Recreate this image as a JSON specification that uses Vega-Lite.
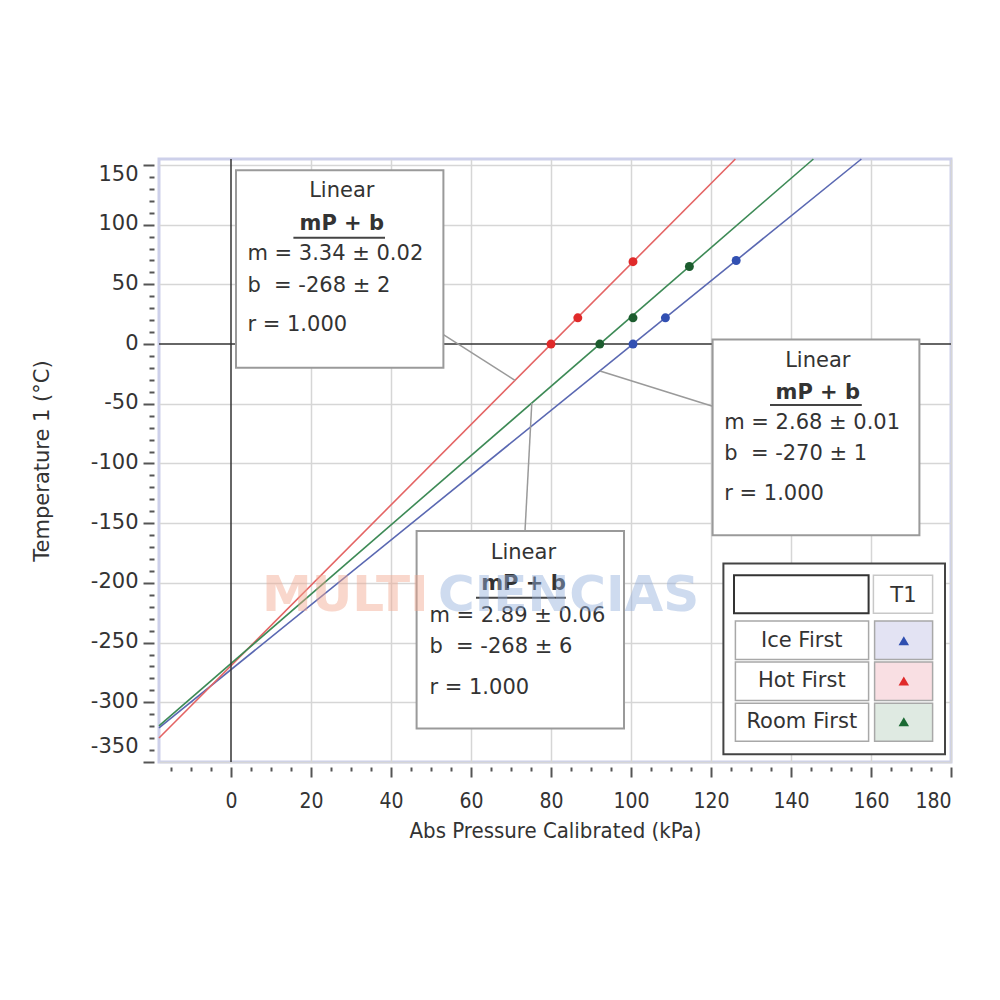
{
  "$schema": "https://vega.github.io/schema/vega-lite/v6.json",
  "width": 792,
  "height": 603,
  "padding": {"left": 31, "top": 155, "right": 5, "bottom": 5},
  "background": "white",
  "config": {"view": {"stroke": "#cdd0ea", "strokeWidth": 3}, "font": "DejaVu Sans"},
  "datasets": {
    "points": [
      {"series": "Ice First", "P": 100.5, "T": 0},
      {"series": "Ice First", "P": 108.6, "T": 22},
      {"series": "Ice First", "P": 126.3, "T": 70},
      {"series": "Hot First", "P": 80.0, "T": 0},
      {"series": "Hot First", "P": 86.7, "T": 22},
      {"series": "Hot First", "P": 100.5, "T": 69},
      {"series": "Room First", "P": 92.2, "T": 0},
      {"series": "Room First", "P": 100.5, "T": 22},
      {"series": "Room First", "P": 114.6, "T": 65}
    ],
    "fits": [
      {"series": "Ice First", "P": -18, "T": -321.5},
      {"series": "Ice First", "P": 157.6, "T": 155},
      {"series": "Hot First", "P": -18, "T": -329.9},
      {"series": "Hot First", "P": 126.1, "T": 155},
      {"series": "Room First", "P": -18, "T": -319.8},
      {"series": "Room First", "P": 145.6, "T": 155}
    ]
  },
  "resolve": {"scale": {"color": "independent"}},
  "layer": [
    {
      "data": {"name": "fits"},
      "mark": {"type": "line", "strokeWidth": 1.6},
      "encoding": {
        "x": {
          "field": "P", "type": "quantitative",
          "scale": {"domain": [-18, 180], "nice": false, "zero": false},
          "axis": {
            "title": "Abs Pressure Calibrated (kPa)",
            "values": [-15,-10,-5,0,5,10,15,20,25,30,35,40,45,50,55,60,65,70,75,80,85,90,95,100,105,110,115,120,125,130,135,140,145,150,155,160,165,170,175,180],
            "tickCount": 200,
            "labelExpr": "datum.value % 20 === 0 ? '' + datum.value : ''",
            "labelOverlap": false,
            "labelBound": false,
            "labelFlush": true,
            "domain": false,
            "offset": 5,
            "tickSize": {"condition": {"test": "datum.value % 20 === 0", "value": 10}, "value": 4},
            "tickWidth": 2,
            "tickColor": "#555",
            "grid": true,
            "gridColor": "#d6d6d6",
            "gridWidth": 1.5,
            "gridOpacity": {"condition": {"test": "datum.value % 20 === 0 && datum.value !== 0", "value": 1}, "value": 0},
            "labelFont": "DejaVu Sans Condensed, Liberation Sans Narrow, DejaVu Sans",
            "labelFontSize": 21,
            "labelColor": "#333",
            "labelPadding": 13,
            "titleFont": "DejaVu Sans Condensed, Liberation Sans Narrow, DejaVu Sans",
            "titleFontSize": 22,
            "titleFontWeight": "normal",
            "titleColor": "#333",
            "titlePadding": 9
          }
        },
        "y": {
          "field": "T", "type": "quantitative",
          "scale": {"domain": [-350, 155], "nice": false, "zero": false},
          "axis": {
            "title": "Temperature 1 (°C)",
            "values": [-350,-340,-330,-320,-310,-300,-290,-280,-270,-260,-250,-240,-230,-220,-210,-200,-190,-180,-170,-160,-150,-140,-130,-120,-110,-100,-90,-80,-70,-60,-50,-40,-30,-20,-10,0,10,20,30,40,50,60,70,80,90,100,110,120,130,140,150],
            "tickCount": 200,
            "labelExpr": "datum.value % 50 === 0 ? '' + datum.value : ''",
            "labelOverlap": false,
            "labelBound": false,
            "labelFlush": 7,
            "labelOffset": {"condition": {"test": "datum.value === -350", "value": -6}, "value": -1},
            "domain": false,
            "offset": 5,
            "tickSize": {"condition": {"test": "datum.value % 50 === 0", "value": 11}, "value": 5},
            "tickWidth": 2,
            "tickColor": "#555",
            "grid": true,
            "gridColor": "#d6d6d6",
            "gridWidth": 1.5,
            "gridOpacity": {"condition": {"test": "datum.value % 50 === 0 && datum.value !== 0", "value": 1}, "value": 0},
            "labelFont": "DejaVu Sans",
            "labelFontSize": 21,
            "labelColor": "#333",
            "labelPadding": 5,
            "titleFont": "DejaVu Sans",
            "titleFontSize": 21,
            "titleFontWeight": "normal",
            "titleColor": "#333",
            "titlePadding": 38
          }
        },
        "color": {
          "field": "series", "type": "nominal", "legend": null,
          "scale": {"domain": ["Ice First", "Hot First", "Room First"], "range": ["#5a68b2", "#e46464", "#3d8a56"]}
        }
      }
    },
    {"data": {"values": [{}]}, "mark": {"type": "rule", "color": "#333", "strokeWidth": 1.5}, "encoding": {"x": {"datum": 0}}},
    {"data": {"values": [{}]}, "mark": {"type": "rule", "color": "#333", "strokeWidth": 1.5}, "encoding": {"y": {"datum": 0}}},
    {
      "data": {"name": "points"},
      "mark": {"type": "point", "filled": true, "shape": "circle", "size": 80, "opacity": 1},
      "encoding": {
        "x": {"field": "P", "type": "quantitative"},
        "y": {"field": "T", "type": "quantitative"},
        "color": {
          "field": "series", "type": "nominal", "legend": null,
          "scale": {"domain": ["Ice First", "Hot First", "Room First"], "range": ["#3250b2", "#e02a2a", "#1c5c2e"]}
        }
      }
    },
    {"data": {"values": [{}]}, "mark": {"type": "rule", "color": "#9a9a9a", "strokeWidth": 1.5}, "encoding": {"x": {"datum": 53.1}, "y": {"datum": 8}, "x2": {"datum": 71}, "y2": {"datum": -30.3}}},
    {"data": {"values": [{}]}, "mark": {"type": "rule", "color": "#9a9a9a", "strokeWidth": 1.5}, "encoding": {"x": {"datum": 92.25}, "y": {"datum": -22.5}, "x2": {"datum": 120.4}, "y2": {"datum": -52.0}}},
    {"data": {"values": [{}]}, "mark": {"type": "rule", "color": "#9a9a9a", "strokeWidth": 1.5}, "encoding": {"x": {"datum": 73.5}, "y": {"datum": -156.6}, "x2": {"datum": 75.2}, "y2": {"datum": -49.4}}},

    {"data": {"values": [{}]}, "mark": {"type": "rect", "fill": "white", "stroke": "#9a9a9a", "strokeWidth": 2}, "encoding": {"x": {"datum": 1.25}, "x2": {"datum": 53.1}, "y": {"datum": 145.5}, "y2": {"datum": -19.8}}},
    {"data": {"values": [{}]}, "mark": {"type": "text", "text": "Linear", "fontSize": 21, "color": "#333"}, "encoding": {"x": {"datum": 27.7}, "y": {"datum": 128.5}}},
    {"data": {"values": [{}]}, "mark": {"type": "text", "text": "mP + b", "fontSize": 21, "fontWeight": "bold", "color": "#333"}, "encoding": {"x": {"datum": 27.7}, "y": {"datum": 100.8}}},
    {"data": {"values": [{}]}, "mark": {"type": "rule", "color": "#444", "strokeWidth": 2}, "encoding": {"x": {"datum": 15.6}, "x2": {"datum": 38.5}, "y": {"datum": 89.0}, "y2": {"datum": 89.0}}},
    {"data": {"values": [{}]}, "mark": {"type": "text", "text": "m = 3.34 ± 0.02", "fontSize": 21, "color": "#333", "align": "left"}, "encoding": {"x": {"datum": 4.1}, "y": {"datum": 75.1}}},
    {"data": {"values": [{}]}, "mark": {"type": "text", "text": "b\u00a0 = -268 ± 2", "fontSize": 21, "color": "#333", "align": "left"}, "encoding": {"x": {"datum": 4.1}, "y": {"datum": 48.6}}},
    {"data": {"values": [{}]}, "mark": {"type": "text", "text": "r = 1.000", "fontSize": 21, "color": "#333", "align": "left"}, "encoding": {"x": {"datum": 4.1}, "y": {"datum": 15.7}}},

    {"data": {"values": [{}]}, "mark": {"type": "rect", "fill": "white", "stroke": "#9a9a9a", "strokeWidth": 2}, "encoding": {"x": {"datum": 120.4}, "x2": {"datum": 172.1}, "y": {"datum": 3.9}, "y2": {"datum": -160.0}}},
    {"data": {"values": [{}]}, "mark": {"type": "text", "text": "Linear", "fontSize": 21, "color": "#333"}, "encoding": {"x": {"datum": 146.7}, "y": {"datum": -14.2}}},
    {"data": {"values": [{}]}, "mark": {"type": "text", "text": "mP + b", "fontSize": 21, "fontWeight": "bold", "color": "#333"}, "encoding": {"x": {"datum": 146.7}, "y": {"datum": -41.3}}},
    {"data": {"values": [{}]}, "mark": {"type": "rule", "color": "#444", "strokeWidth": 2}, "encoding": {"x": {"datum": 134.75}, "x2": {"datum": 157.7}, "y": {"datum": -51.1}, "y2": {"datum": -51.1}}},
    {"data": {"values": [{}]}, "mark": {"type": "text", "text": "m = 2.68 ± 0.01", "fontSize": 21, "color": "#333", "align": "left"}, "encoding": {"x": {"datum": 123.3}, "y": {"datum": -66.4}}},
    {"data": {"values": [{}]}, "mark": {"type": "text", "text": "b\u00a0 = -270 ± 1", "fontSize": 21, "color": "#333", "align": "left"}, "encoding": {"x": {"datum": 123.3}, "y": {"datum": -92.4}}},
    {"data": {"values": [{}]}, "mark": {"type": "text", "text": "r = 1.000", "fontSize": 21, "color": "#333", "align": "left"}, "encoding": {"x": {"datum": 123.3}, "y": {"datum": -125.9}}},

    {"data": {"values": [{}]}, "mark": {"type": "rect", "fill": "white", "stroke": "#9a9a9a", "strokeWidth": 2}, "encoding": {"x": {"datum": 46.4}, "x2": {"datum": 98.25}, "y": {"datum": -156.6}, "y2": {"datum": -321.9}}},
    {"data": {"values": [{}]}, "mark": {"type": "text", "text": "Linear", "fontSize": 21, "color": "#333"}, "encoding": {"x": {"datum": 73.1}, "y": {"datum": -174.8}}},
    {"data": {"values": [{}]}, "mark": {"type": "text", "text": "mP + b", "fontSize": 21, "fontWeight": "bold", "color": "#333"}, "encoding": {"x": {"datum": 73.1}, "y": {"datum": -201.3}}},
    {"data": {"values": [{}]}, "mark": {"type": "rule", "color": "#444", "strokeWidth": 2}, "encoding": {"x": {"datum": 61.25}, "x2": {"datum": 83.7}, "y": {"datum": -212.5}, "y2": {"datum": -212.5}}},
    {"data": {"values": [{}]}, "mark": {"type": "text", "text": "m = 2.89 ± 0.06", "fontSize": 21, "color": "#333", "align": "left"}, "encoding": {"x": {"datum": 49.6}, "y": {"datum": -227.8}}},
    {"data": {"values": [{}]}, "mark": {"type": "text", "text": "b\u00a0 = -268 ± 6", "fontSize": 21, "color": "#333", "align": "left"}, "encoding": {"x": {"datum": 49.6}, "y": {"datum": -253.8}}},
    {"data": {"values": [{}]}, "mark": {"type": "text", "text": "r = 1.000", "fontSize": 21, "color": "#333", "align": "left"}, "encoding": {"x": {"datum": 49.6}, "y": {"datum": -287.9}}},

    {"data": {"values": [{}]}, "mark": {"type": "rect", "fill": "white", "stroke": "#444", "strokeWidth": 2}, "encoding": {"x": {"datum": 123.1}, "x2": {"datum": 178.5}, "y": {"datum": -183.7}, "y2": {"datum": -343.6}}},
    {"data": {"values": [{}]}, "mark": {"type": "rect", "fill": "white", "stroke": "#333", "strokeWidth": 2}, "encoding": {"x": {"datum": 125.75}, "x2": {"datum": 159.4}, "y": {"datum": -193.5}, "y2": {"datum": -225.5}}},
    {"data": {"values": [{}]}, "mark": {"type": "rect", "fill": "white", "stroke": "#c8c8c8", "strokeWidth": 1.5}, "encoding": {"x": {"datum": 160.6}, "x2": {"datum": 175.4}, "y": {"datum": -193.5}, "y2": {"datum": -225.5}}},
    {"data": {"values": [{}]}, "mark": {"type": "text", "text": "T1", "fontSize": 21, "color": "#333"}, "encoding": {"x": {"datum": 168.1}, "y": {"datum": -211.1}}},

    {"data": {"values": [{}]}, "mark": {"type": "rect", "fill": "white", "stroke": "#a8a8a8", "strokeWidth": 1.5}, "encoding": {"x": {"datum": 126.1}, "x2": {"datum": 159.4}, "y": {"datum": -232.0}, "y2": {"datum": -264.1}}},
    {"data": {"values": [{}]}, "mark": {"type": "rect", "fill": "#e3e3f3", "stroke": "#a8a8a8", "strokeWidth": 1.5}, "encoding": {"x": {"datum": 160.9}, "x2": {"datum": 175.4}, "y": {"datum": -232.0}, "y2": {"datum": -264.1}}},
    {"data": {"values": [{}]}, "mark": {"type": "text", "text": "Ice First", "fontSize": 21, "color": "#333"}, "encoding": {"x": {"datum": 142.7}, "y": {"datum": -248.4}}},
    {"data": {"values": [{}]}, "mark": {"type": "point", "shape": "triangle-up", "filled": true, "size": 110, "color": "#2f4fb0", "opacity": 1}, "encoding": {"x": {"datum": 168.2}, "y": {"datum": -248.4}}},

    {"data": {"values": [{}]}, "mark": {"type": "rect", "fill": "white", "stroke": "#a8a8a8", "strokeWidth": 1.5}, "encoding": {"x": {"datum": 126.1}, "x2": {"datum": 159.4}, "y": {"datum": -266.3}, "y2": {"datum": -298.4}}},
    {"data": {"values": [{}]}, "mark": {"type": "rect", "fill": "#f9dfe3", "stroke": "#a8a8a8", "strokeWidth": 1.5}, "encoding": {"x": {"datum": 160.9}, "x2": {"datum": 175.4}, "y": {"datum": -266.3}, "y2": {"datum": -298.4}}},
    {"data": {"values": [{}]}, "mark": {"type": "text", "text": "Hot First", "fontSize": 21, "color": "#333"}, "encoding": {"x": {"datum": 142.7}, "y": {"datum": -282.2}}},
    {"data": {"values": [{}]}, "mark": {"type": "point", "shape": "triangle-up", "filled": true, "size": 110, "color": "#e02a2a", "opacity": 1}, "encoding": {"x": {"datum": 168.2}, "y": {"datum": -282.2}}},

    {"data": {"values": [{}]}, "mark": {"type": "rect", "fill": "white", "stroke": "#a8a8a8", "strokeWidth": 1.5}, "encoding": {"x": {"datum": 126.1}, "x2": {"datum": 159.4}, "y": {"datum": -300.7}, "y2": {"datum": -332.7}}},
    {"data": {"values": [{}]}, "mark": {"type": "rect", "fill": "#dfeae2", "stroke": "#a8a8a8", "strokeWidth": 1.5}, "encoding": {"x": {"datum": 160.9}, "x2": {"datum": 175.4}, "y": {"datum": -300.7}, "y2": {"datum": -332.7}}},
    {"data": {"values": [{}]}, "mark": {"type": "text", "text": "Room First", "fontSize": 21, "color": "#333"}, "encoding": {"x": {"datum": 142.7}, "y": {"datum": -316.3}}},
    {"data": {"values": [{}]}, "mark": {"type": "point", "shape": "triangle-up", "filled": true, "size": 110, "color": "#1b6a33", "opacity": 1}, "encoding": {"x": {"datum": 168.2}, "y": {"datum": -316.3}}},

    {"data": {"values": [{}]}, "mark": {"type": "text", "text": "MULTI", "fontSize": 50, "fontWeight": "bold", "color": "#f2a890", "opacity": 0.45, "align": "left"}, "encoding": {"x": {"datum": 7.75}, "y": {"datum": -211}}},
    {"data": {"values": [{}]}, "mark": {"type": "text", "text": "CIENCIAS", "fontSize": 50, "fontWeight": "bold", "color": "#94b0dc", "opacity": 0.45, "align": "left"}, "encoding": {"x": {"datum": 51.75}, "y": {"datum": -211}}}
  ]
}
